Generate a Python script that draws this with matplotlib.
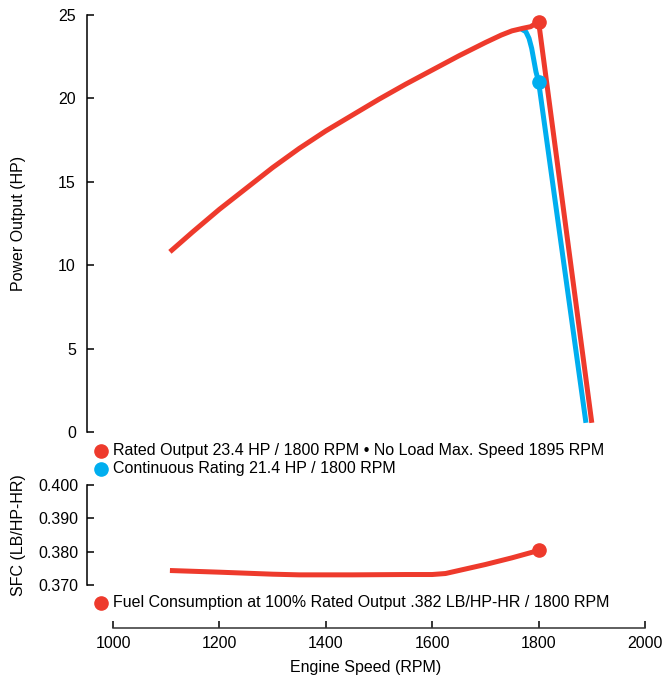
import matplotlib.pyplot as plt

plt.rcParams['font.family'] = ['Liberation Sans', 'DejaVu Sans']

RED = '#EE3A2C'
BLUE = '#00AEEF'

# Rated output curve (RPM, HP)
rated_rpm = [1107, 1150, 1200, 1250, 1300, 1350, 1400, 1450, 1500, 1550, 1600, 1650, 1700,
             1730, 1750, 1770, 1785, 1800, 1900]
rated_hp = [10.8, 12.0, 13.35, 14.6, 15.85, 17.0, 18.05, 19.0, 19.95, 20.85, 21.7, 22.55, 23.35,
            23.8, 24.05, 24.2, 24.3, 24.6, 0.55]

# Continuous rating curve (RPM, HP)
cont_rpm = [1768, 1776, 1782, 1787, 1791, 1795, 1800, 1889]
cont_hp = [24.15, 24.0, 23.6, 23.0, 22.3, 21.6, 21.0, 0.55]

rated_point = (1800, 24.6)
cont_point = (1800, 21.0)

# Fuel consumption (RPM, LB/HP-HR)
sfc_rpm = [1107, 1200, 1300, 1350, 1450, 1550, 1600, 1625, 1650, 1700, 1750, 1800]
sfc_val = [0.3744, 0.3739, 0.3733, 0.3731, 0.3731, 0.3732, 0.3732, 0.3735, 0.3744, 0.3762,
           0.3782, 0.3804]

power_ticks = [0, 5, 10, 15, 20, 25]
sfc_ticks = [0.370, 0.380, 0.390, 0.400]
speed_ticks = [1000, 1200, 1400, 1600, 1800, 2000]

legend_top = ['Rated Output 23.4 HP / 1800 RPM \u2022 No Load Max. Speed 1895 RPM',
              'Continuous Rating 21.4 HP / 1800 RPM']
legend_sfc = 'Fuel Consumption at 100% Rated Output .382 LB/HP-HR / 1800 RPM'

W, H = 663, 675
fig = plt.figure(figsize=(W / 100, H / 100), dpi=100)

xmin = 1000 - 26 / 0.532
ax_left = 87 / W
ax_width = (645 - 87) / W
FS = 11.5

# Power output axes
ax = fig.add_axes([ax_left, 1 - 432 / H, ax_width, (432 - 15) / H])
ax.plot(cont_rpm, cont_hp, color=BLUE, lw=3.6, solid_capstyle='butt', solid_joinstyle='round', zorder=2)
ax.plot(rated_rpm, rated_hp, color=RED, lw=3.6, solid_capstyle='butt', solid_joinstyle='round', zorder=3)
ax.plot(*cont_point, 'o', color=BLUE, ms=9.5, zorder=4)
ax.plot(*rated_point, 'o', color=RED, ms=9.5, zorder=4, clip_on=False)
ax.set_xlim(xmin, 2000)
ax.set_ylim(0, 25)
ax.set_yticks(power_ticks)
ax.set_xticks([])
for s in ['top', 'right', 'bottom']:
    ax.spines[s].set_visible(False)
ax.spines['left'].set_linewidth(1.1)
ax.tick_params(axis='y', direction='in', length=5, width=1.1, labelsize=FS, pad=8)
ax.set_ylabel('Power Output (HP)', fontsize=FS)
ax.yaxis.set_label_coords(-(87 - 26) / 558, 0.5)

for i, (txt, col) in enumerate(zip(legend_top, [RED, BLUE])):
    yy = (432 - (451 + 18 * i)) / 417
    ax.plot([(101 - 87) / 558], [yy], 'o', color=col, ms=9.5, transform=ax.transAxes, clip_on=False)
    ax.text((113 - 87) / 558, yy, txt, transform=ax.transAxes, fontsize=FS,
            va='center', ha='left')

# SFC axes
ax2 = fig.add_axes([ax_left, 1 - 628 / H, ax_width, (628 - 485) / H])
ax2.plot(sfc_rpm, sfc_val, color=RED, lw=3.6, solid_capstyle='butt', solid_joinstyle='round')
ax2.plot(sfc_rpm[-1], sfc_val[-1], 'o', color=RED, ms=9.5)
ax2.set_xlim(xmin, 2000)
ax2.set_ylim(0.370 - 42.7 / 3333, 0.400)
ax2.set_yticks(sfc_ticks)
ax2.set_yticklabels([f'{v:.3f}' for v in sfc_ticks])
ax2.set_xticks(speed_ticks)
for s in ['top', 'right']:
    ax2.spines[s].set_visible(False)
ax2.spines['left'].set_bounds(0.370, 0.400)
ax2.spines['bottom'].set_bounds(1000, 2000)
ax2.spines['left'].set_linewidth(1.1)
ax2.spines['bottom'].set_linewidth(1.1)
ax2.spines['bottom'].set_color('#333333')
ax2.tick_params(axis='y', direction='in', length=5, width=1.1, labelsize=FS, pad=6)
ax2.tick_params(axis='x', direction='in', length=5, width=1.1, labelsize=FS, pad=6)
ax2.set_ylabel('SFC (LB/HP-HR)', fontsize=FS)
ax2.yaxis.set_label_coords(-(87 - 26) / 558, (628 - 535) / 143)
ax2.set_xlabel('Engine Speed (RPM)', fontsize=FS, labelpad=6)

yy = (628 - 603) / 143
ax2.plot([(101 - 87) / 558], [yy], 'o', color=RED, ms=9.5, transform=ax2.transAxes, clip_on=False)
ax2.text((113 - 87) / 558, yy, legend_sfc, transform=ax2.transAxes, fontsize=FS,
         va='center', ha='left')

fig.savefig('out.png', dpi=100)
